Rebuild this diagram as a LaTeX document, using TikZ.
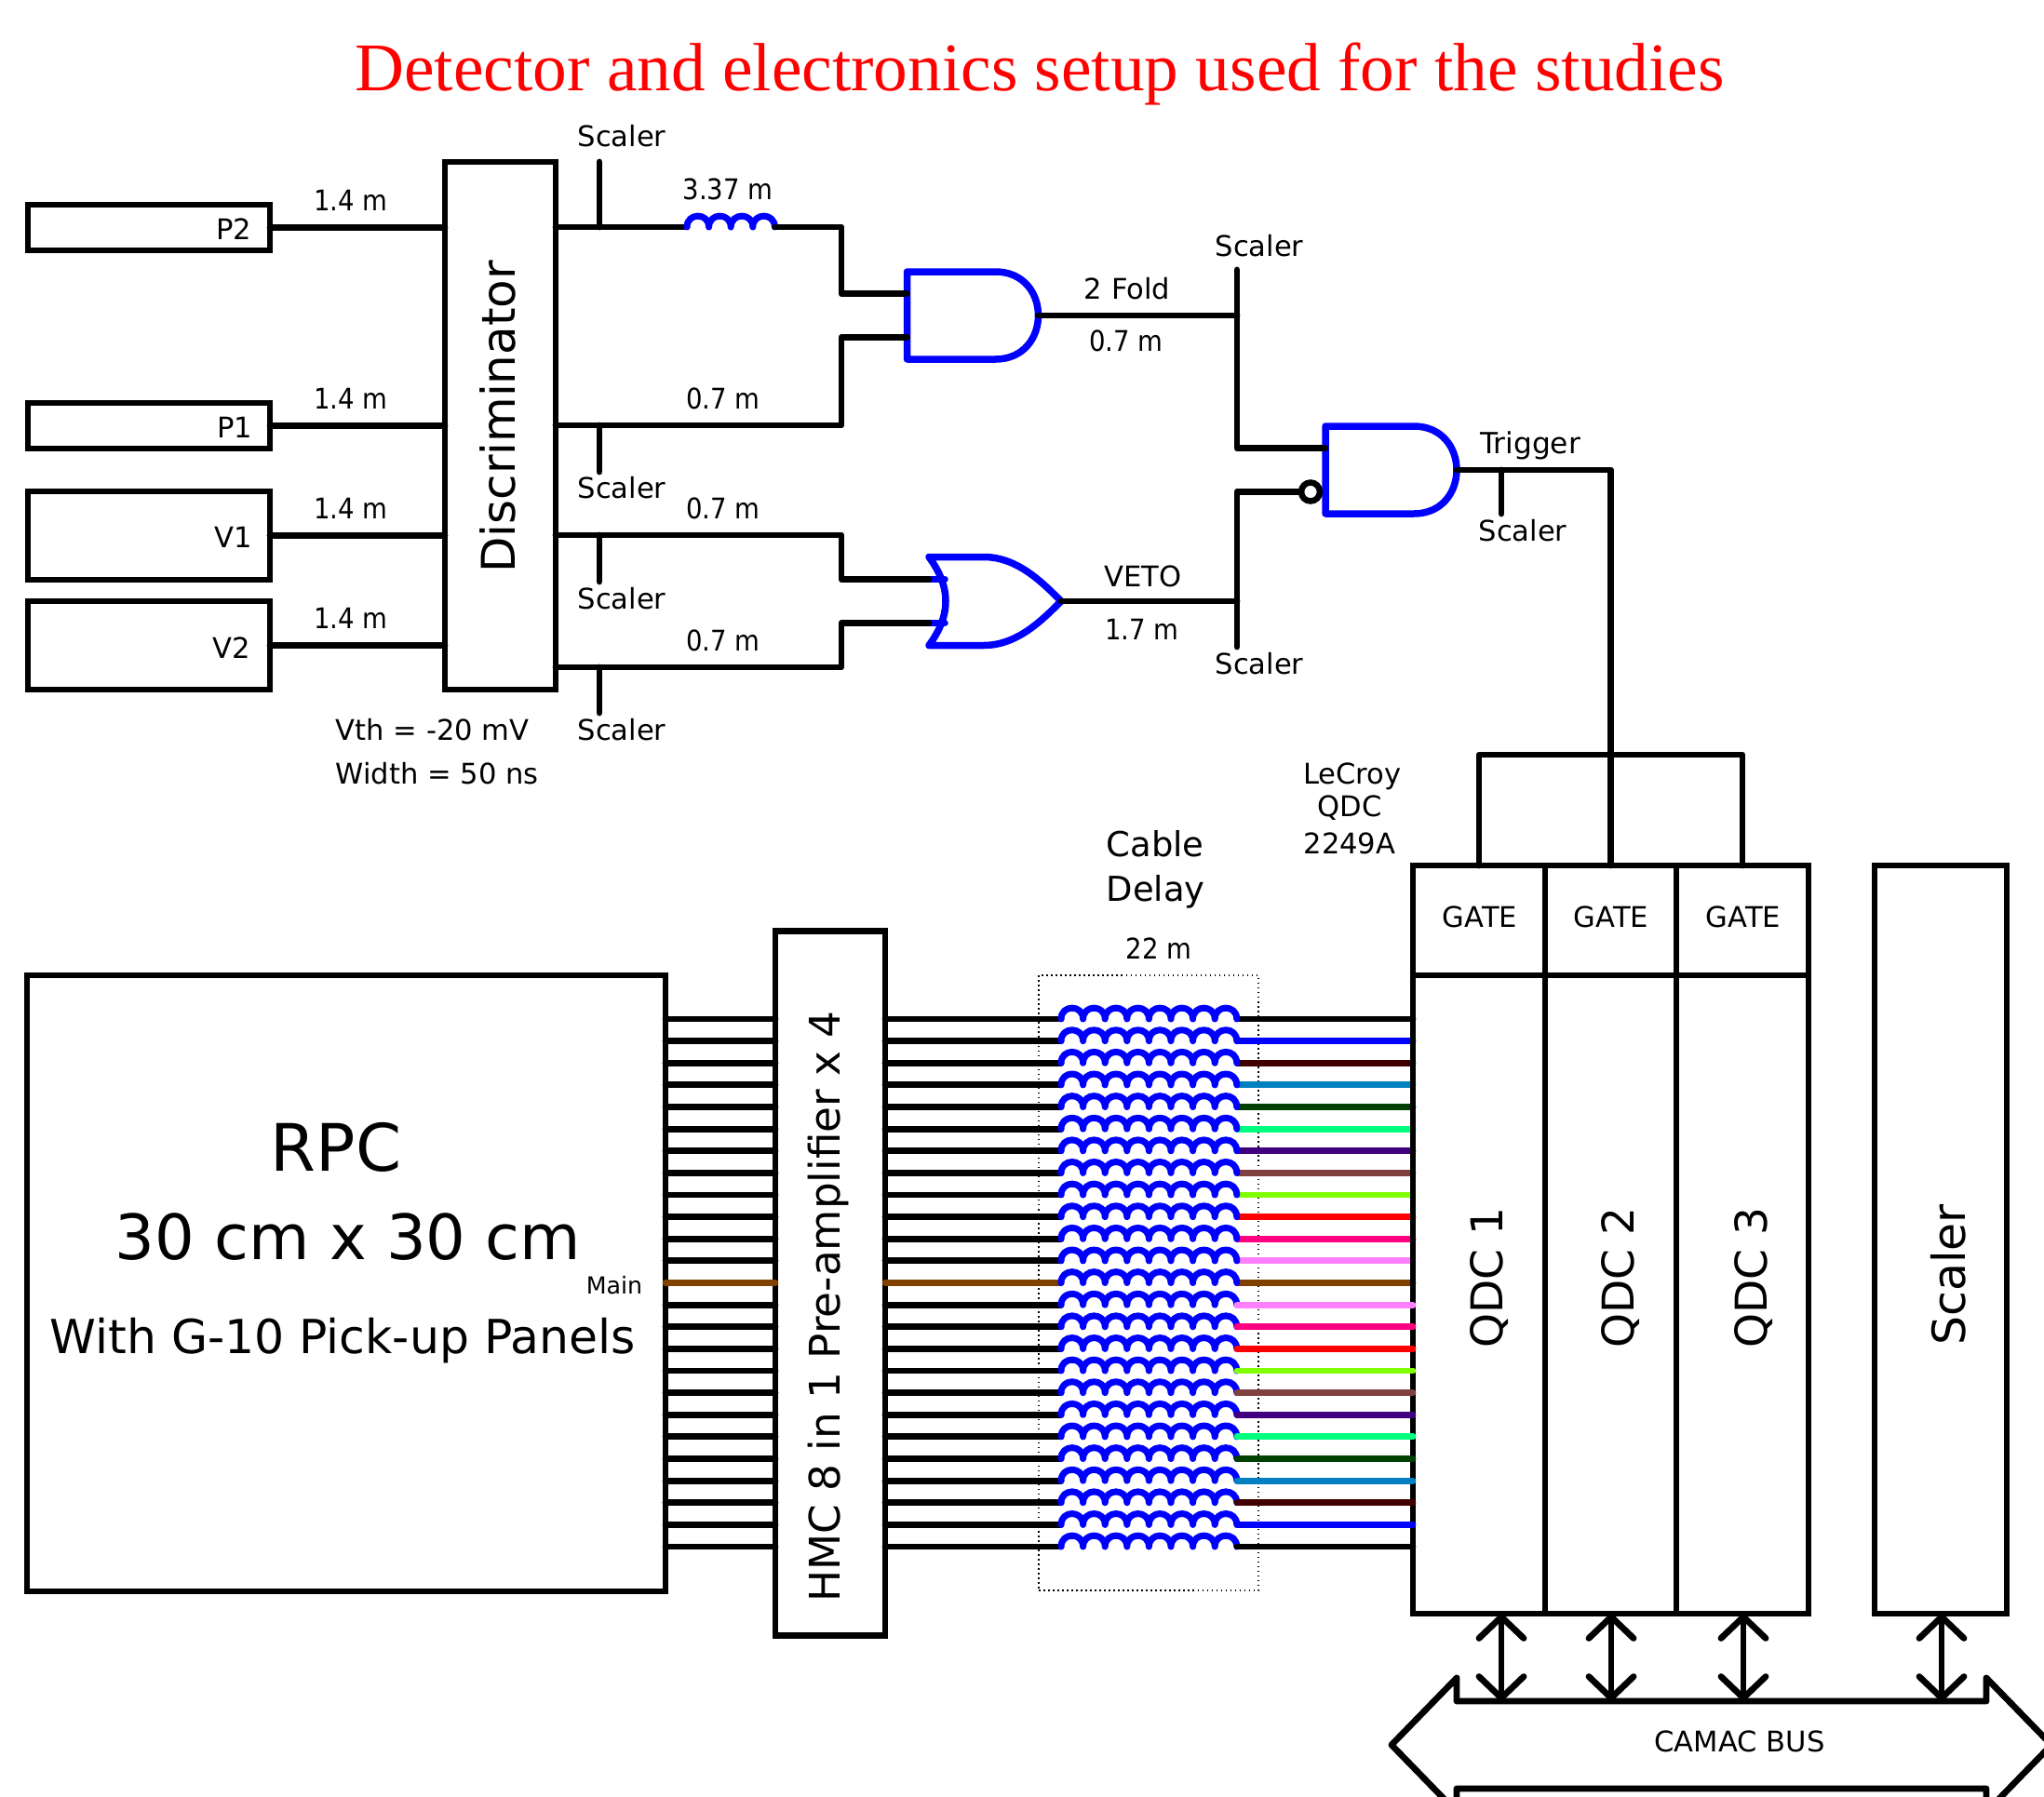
\documentclass[tikz,border=0pt]{standalone}
\usepackage{fontspec}
\setmainfont{DejaVu Sans}
\newfontfamily\titlefont{Liberation Serif}
\newfontfamily\lenfont[FakeStretch=0.9]{DejaVu Sans}
\usepackage{tikz}
\usetikzlibrary{arrows.meta,calc}

% wire colours of the 25 channels
\definecolor{chdarkred}{HTML}{400000}
\definecolor{chsky}{HTML}{0080C0}
\definecolor{chdarkgreen}{HTML}{004000}
\definecolor{chspring}{HTML}{00FF80}
\definecolor{chviolet}{HTML}{400080}
\definecolor{chrose}{HTML}{804040}
\definecolor{chlime}{HTML}{80FF00}
\definecolor{chpink}{HTML}{FF0080}
\definecolor{chorchid}{HTML}{FF80FF}
\definecolor{chbrown}{HTML}{804000}

\tikzset{
  block/.style={draw,line width=0.068cm,outer sep=0pt,inner sep=0pt},
  wire/.style={line width=0.068cm,line cap=round,line join=round},
  gateline/.style={blue,line width=0.075cm,line cap=round,line join=round},
  winding/.style={blue,line width=0.07cm,line cap=round,line join=round},
  lab/.style={inner sep=0pt,font=\fontsize{8.7}{10}\selectfont},
  lenlab/.style={inner sep=0pt,font=\lenfont\fontsize{8.7}{10}\selectfont},
  biglab/.style={inner sep=0pt,font=\fontsize{13.4}{16}\selectfont},
  busarrow/.style={wire,{Straight Barb[round,length=0.23cm,width=0.48cm]}-{Straight Barb[round,length=0.23cm,width=0.48cm]}},
  andgate/.pic={
    \draw[gateline] (0,-0.47) -- (0.95,-0.47)
      .. controls (1.25,-0.47) and (1.41,-0.24) .. (1.41,0)
      .. controls (1.41,0.24) and (1.25,0.47) .. (0.95,0.47)
      -- (0,0.47) -- cycle;
    \coordinate (-in1) at (0,-0.235);
    \coordinate (-in2) at (0,0.235);
    \coordinate (-out) at (1.41,0);
  },
  orgate/.pic={
    \draw[gateline] (0,-0.475) -- (0.59,-0.475)
      .. controls (0.95,-0.475) and (1.22,-0.2) .. (1.42,0)
      .. controls (1.22,0.2) and (0.95,0.475) .. (0.59,0.475)
      -- (0,0.475)
      .. controls (0.24,0.15) and (0.24,-0.15) .. (0,-0.475) -- cycle;
    \coordinate (-in1) at (0,-0.235);
    \coordinate (-in2) at (0,0.235);
    \coordinate (-stub1) at (0.17,-0.235);
    \coordinate (-stub2) at (0.17,0.235);
    \coordinate (-out) at (1.42,0);
    \draw[gateline] (-in1) -- (-stub1);
    \draw[gateline] (-in2) -- (-stub2);
  },
}
% coil: start point, number of turns
\newcommand{\coil}[2]{
  \draw[winding] (#1) foreach \k in {1,...,#2} { .. controls +(0,-0.158) and +(0,-0.158) .. ++(0.236,0) };
}

\begin{document}
\begin{tikzpicture}[y=-1cm]
    \useasboundingbox (0,0) rectangle (21.96,19.31);

    % Title
    \node[red,inner sep=0pt,font=\titlefont\fontsize{20.85}{25}\selectfont] (title) at (11.17,0.80) {Detector and electronics setup used for the studies};

    % Detectors and discriminator
    \node[block,minimum width=2.60cm,minimum height=0.49cm] (ptwo) at (1.60,2.445) {};
    \node[block,minimum width=2.60cm,minimum height=0.49cm] (pone) at (1.60,4.575) {};
    \node[block,minimum width=2.60cm,minimum height=0.95cm] (vone) at (1.60,5.755) {};
    \node[block,minimum width=2.60cm,minimum height=0.95cm] (vtwo) at (1.60,6.935) {};
    \node[block,minimum width=1.19cm,minimum height=5.67cm] (disc) at (5.375,4.575) {};
    \node[lab] (lptwo) at (2.51,2.46) {P2};
    \node[lab] (lpone) at (2.52,4.59) {P1};
    \node[lab] (lvone) at (2.51,5.77) {V1};
    \node[lab] (lvtwo) at (2.49,6.96) {V2};
    \node[inner sep=0pt,rotate=90,font=\fontsize{14.2}{17}\selectfont] (ldisc) at (5.35,4.48) {Discriminator};

    % Detector cables
    \draw[wire] (ptwo.east) -- (ptwo.east -| disc.west);
    \draw[wire] (pone.east) -- (pone.east -| disc.west);
    \draw[wire] (vone.east) -- (vone.east -| disc.west);
    \draw[wire] (vtwo.east) -- (vtwo.east -| disc.west);
    \node[lenlab] (lenone) at (3.77,2.15) {1.4 m};
    \node[lenlab] (lentwo) at (3.77,4.28) {1.4 m};
    \node[lenlab] (lenthree) at (3.77,5.46) {1.4 m};
    \node[lenlab] (lenfour) at (3.77,6.64) {1.4 m};
    \node[lab,anchor=west] (vth) at (3.60,7.84) {Vth = -20 mV};
    \node[lab,anchor=west] (width) at (3.60,8.31) {Width = 50 ns};

    % Gates
    \pic (andone) at (9.745,3.39) {andgate};
    \pic (andtwo) at (14.24,5.05) {andgate};
    \pic (orone) at (9.98,6.46) {orgate};
    \node[draw,circle,line width=0.065cm,minimum size=0.2cm,inner sep=0pt,outer sep=0pt] (bubble) at (14.08,5.285) {};

    % Discriminator outputs
    \coordinate (cointop) at (9.04,2.44);
    \coordinate (coilin) at (7.38,2.44);
    \coordinate (coilout) at (8.324,2.44);
    \coordinate (corlow) at (9.04,4.57);
    \coordinate (cvone) at (9.04,5.75);
    \coordinate (cvtwo) at (9.04,7.17);
    \draw[wire] (disc.east |- coilin) -- (coilin);
    \coil{coilin}{4}
    \draw[wire] (coilout) -- (cointop) -- (cointop |- andone-in1) -- (andone-in1);
    \draw[wire] (disc.east |- corlow) -- (corlow) -- (corlow |- andone-in2) -- (andone-in2);
    \draw[wire] (disc.east |- cvone) -- (cvone) -- (cvone |- orone-in1) -- (orone-in1);
    \draw[wire] (disc.east |- cvtwo) -- (cvtwo) -- (cvtwo |- orone-in2) -- (orone-in2);
    \node[lenlab] (lcoil) at (7.82,2.03) {3.37 m};
    \node[lenlab] (lp) at (7.77,4.28) {0.7 m};
    \node[lenlab] (lva) at (7.77,5.46) {0.7 m};
    \node[lenlab] (lvb) at (7.77,6.88) {0.7 m};

    % Scaler taps
    \coordinate (tapa) at (6.44,1.74);
    \coordinate (tapb) at (6.44,5.07);
    \coordinate (tapc) at (6.44,6.25);
    \coordinate (tapd) at (6.44,7.66);
    \draw[wire] (tapa) -- (tapa |- coilin);
    \draw[wire] (tapb) -- (tapb |- corlow);
    \draw[wire] (tapc) -- (tapc |- cvone);
    \draw[wire] (tapd) -- (tapd |- cvtwo);
    \node[lab] (sa) at (6.68,1.46) {Scaler};
    \node[lab] (sb) at (6.68,5.24) {Scaler};
    \node[lab] (sc) at (6.68,6.43) {Scaler};
    \node[lab] (sd) at (6.68,7.84) {Scaler};

    % 2 Fold and VETO into the trigger gate
    \coordinate (foldtop) at (13.29,2.90);
    \coordinate (vetolow) at (13.29,6.95);
    \draw[wire] (foldtop) -- (foldtop |- andtwo-in1) -- (andtwo-in1);
    \draw[wire] (andone-out) -- (andone-out -| foldtop);
    \draw[wire] (vetolow) -- (vetolow |- bubble.west) -- (bubble.west);
    \draw[wire] (orone-out) -- (orone-out -| vetolow);
    \node[lab] (lfold) at (12.11,3.10) {2 Fold};
    \node[lenlab] (lfoldm) at (12.10,3.66) {0.7 m};
    \node[lab] (lveto) at (12.28,6.19) {VETO};
    \node[lenlab] (lvetom) at (12.27,6.76) {1.7 m};
    \node[lab] (se) at (13.53,2.64) {Scaler};
    \node[lab] (sf) at (13.53,7.13) {Scaler};

    % QDC and scaler crate
    \node[block,minimum width=1.42cm,minimum height=1.18cm] (gateone) at (15.89,9.89) {};
    \node[block,minimum width=1.41cm,minimum height=1.18cm] (gatetwo) at (17.305,9.89) {};
    \node[block,minimum width=1.42cm,minimum height=1.18cm] (gatethree) at (18.72,9.89) {};
    \node[lab] (lgateone) at (15.90,9.85) {GATE};
    \node[lab] (lgatetwo) at (17.31,9.85) {GATE};
    \node[lab] (lgatethree) at (18.73,9.85) {GATE};
    \node[lab] (lecroy) at (14.53,8.34) {LeCroy};
    \node[lab] (lecroyb) at (14.50,8.68) {QDC};
    \node[lab] (lecroyc) at (14.50,9.06) {2249A};

    % Trigger and gate lines
    \coordinate (trigcor) at (gatetwo.north |- andtwo-out);
    \coordinate (gateline) at (17.305,8.11);
    \coordinate (tape) at (16.13,5.52);
    \draw[wire] (andtwo-out) -- (trigcor) -- (gatetwo.north);
    \draw[wire] (tape) -- (tape |- andtwo-out);
    \draw[wire] (gateone.north) -- (gateone.north |- gateline) -- (gatethree.north |- gateline) -- (gatethree.north);
    \node[lab,font=\fontsize{8.9}{10}\selectfont] (ltrig) at (16.44,4.79) {Trigger};
    \node[lab] (sg) at (16.36,5.70) {Scaler};

    % RPC and preamplifier
    \node[block,minimum width=6.86cm,minimum height=6.62cm] (rpc) at (3.72,13.79) {};
    \node[block,minimum width=1.18cm,minimum height=7.57cm] (hmc) at (8.92,13.79) {};
    \node[inner sep=0pt,font=\fontsize{20}{24}\selectfont] (lrpc) at (3.61,12.33) {RPC};
    \node[inner sep=0pt,font=\fontsize{19.1}{23}\selectfont] (lsize) at (3.74,13.29) {30 cm x 30 cm};
    \node[inner sep=0pt,font=\fontsize{14.35}{17}\selectfont] (lpanel) at (3.68,14.41) {With G-10 Pick-up Panels};
    \node[inner sep=0pt,font=\fontsize{7.2}{9}\selectfont] (lmain) at (6.60,13.81) {Main};
    \node[inner sep=0pt,rotate=90,font=\fontsize{12.9}{16}\selectfont] (lhmc) at (8.90,14.04) {HMC 8 in 1 Pre-amplifier x 4};

    % Delay box
    \node[draw,densely dotted,line width=0.015cm,minimum width=2.36cm,minimum height=6.61cm,inner sep=0pt] (delay) at (12.34,13.785) {};
    \node[inner sep=0pt,anchor=west,font=\fontsize{10.5}{13}\selectfont] (lcable) at (11.88,9.07) {Cable};
    \node[inner sep=0pt,anchor=west,font=\fontsize{10.5}{13}\selectfont] (ldelay) at (11.88,9.58) {Delay};
    \node[lenlab] (ldelaym) at (12.45,10.19) {22 m};

    % Channels, upper half goes under the QDC edge
    \foreach \i/\c in {0/black,1/blue,2/chdarkred,3/chsky,4/chdarkgreen,5/chspring,6/chviolet,7/chrose,8/chlime,9/red,10/chpink,11/chorchid,12/chbrown,13/chorchid,14/chpink,15/red,16/chlime,17/chrose,18/chviolet,19/chspring,20/chdarkgreen,21/chsky,22/chdarkred,23/blue,24/black} {
      \pgfmathsetmacro{\yrow}{10.95+\i*0.23625}
      \ifnum\i=12 \def\lc{chbrown}\else\def\lc{black}\fi
      \coordinate (rin\i) at (rpc.east |- 0,\yrow);
      \coordinate (hin\i) at (hmc.west |- 0,\yrow);
      \coordinate (hout\i) at (hmc.east |- 0,\yrow);
      \coordinate (cin\i) at (11.40,\yrow);
      \coordinate (cout\i) at (13.29,\yrow);
      \coordinate (qin\i) at (15.18,\yrow);
      \draw[wire,\lc] (rin\i) -- (hin\i);
      \draw[wire,\lc] (hout\i) -- (cin\i);
      \ifnum\i<13 \draw[wire,\c] (cout\i) -- (qin\i); \fi
    }
    \foreach \i in {0,...,24} { \coil{cin\i}{8} }

    % QDC bodies
    \node[block,minimum width=1.42cm,minimum height=6.86cm] (qdcone) at (15.89,13.91) {};
    \node[block,minimum width=1.41cm,minimum height=6.86cm] (qdctwo) at (17.305,13.91) {};
    \node[block,minimum width=1.42cm,minimum height=6.86cm] (qdcthree) at (18.72,13.91) {};
    \node[block,minimum width=1.42cm,minimum height=8.04cm] (scaler) at (20.85,13.32) {};
    \node[biglab,rotate=90] (lqone) at (16.00,13.73) {QDC 1};
    \node[biglab,rotate=90] (lqtwo) at (17.41,13.73) {QDC 2};
    \node[biglab,rotate=90] (lqthree) at (18.84,13.73) {QDC 3};
    \node[inner sep=0pt,rotate=90,font=\fontsize{13.9}{16}\selectfont] (lscaler) at (20.93,13.70) {Scaler};

    % Lower channels lie over the QDC edge
    \foreach \i/\c in {13/chorchid,14/chpink,15/red,16/chlime,17/chrose,18/chviolet,19/chspring,20/chdarkgreen,21/chsky,22/chdarkred,23/blue,24/black} {
      \draw[wire,\c] (cout\i) -- (qin\i);
    }

    % CAMAC bus
    \draw[wire] (15.65,18.28) -- (15.65,18.03) -- (14.95,18.75) -- (15.65,19.47) -- (15.65,19.22) -- (21.34,19.22) -- (21.34,19.47) -- (22.04,18.75) -- (21.34,18.03) -- (21.34,18.28) -- cycle;
    \node[lab] (lbus) at (18.69,18.71) {CAMAC BUS};
    \foreach \n/\x in {qa/16.13,qb/17.31,qc/18.73,qd/20.86} {
      \coordinate (\n) at (\x,17.34);
      \coordinate (\n b) at (\x,18.28);
      \draw[busarrow] (\n) -- (\n b);
    }
\end{tikzpicture}
\end{document}
